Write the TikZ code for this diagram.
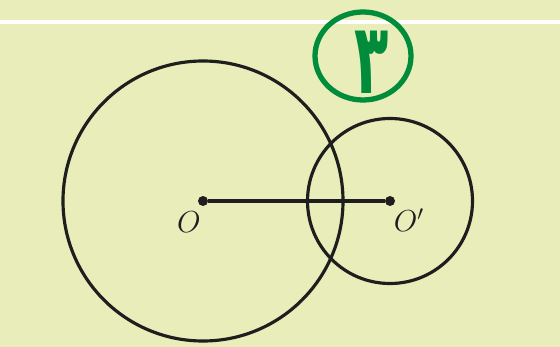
\documentclass[tikz,border=0pt]{standalone}
\usepackage{fontspec}
\usepackage{tikz}
\usetikzlibrary{positioning}
\newfontfamily\arabicfont[Script=Arabic]{DejaVu Sans}
\TeXXeTstate=1
\definecolor{paper}{RGB}{232,237,186}
\definecolor{penink}{RGB}{0,140,58}
\definecolor{figink}{RGB}{30,30,30}

\begin{document}
\begin{tikzpicture}[x=0.02cm, y=-0.02cm,
    circ/.style={draw=figink, line width=1.8pt},
    centre/.style={circle, fill=figink, inner sep=0pt, minimum size=0.2cm},
    lbl/.style={font=\LARGE, text=figink}]
    % page
    \fill[paper] (0,0) rectangle (560,347);
    \fill[white] (0,20.5) rectangle (560,24);
    \useasboundingbox (0,0) rectangle (560,347);
    % the two circles
    \node[centre] (o) at (203,201) {};
    \node[centre] (op) at (390,201) {};
    \draw[circ] (o.center) circle[radius=140];
    \draw[circ] (op.center) circle[radius=82.5];
    \draw[figink, line width=1.8pt] (o) -- (op);
    \node[lbl] (lo) at (189,222) {$O$};
    \node[lbl] (lop) at (409,220) {$O'$};
    % handwritten mark
    \draw[penink, line width=3pt, line cap=round] (363,56) ellipse[x radius=48, y radius=44];
    \node[text=penink, font=\arabicfont\fontsize{40}{40}\selectfont\bfseries,
          xscale=0.8, yscale=1.4] (num) at (372,62) {\beginR ٣\endR};
\end{tikzpicture}
\end{document}
